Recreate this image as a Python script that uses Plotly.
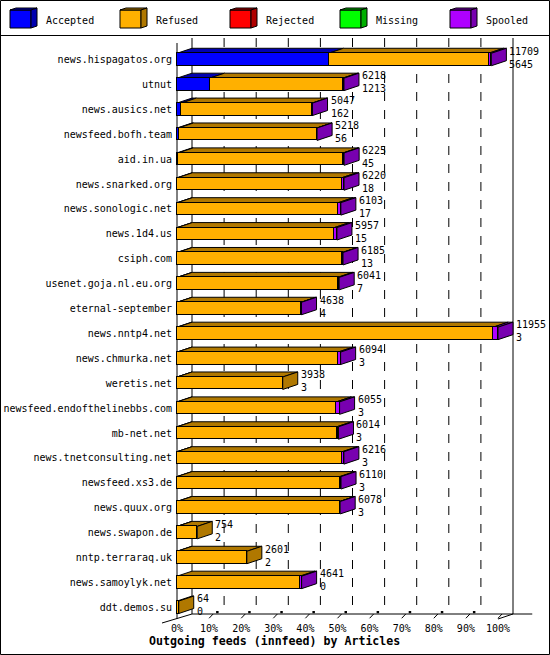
import plotly.graph_objects as go

# feeds, top to bottom
feeds = ['news.hispagatos.org', 'utnut', 'news.ausics.net', 'newsfeed.bofh.team',
         'aid.in.ua', 'news.snarked.org', 'news.sonologic.net', 'news.1d4.us',
         'csiph.com', 'usenet.goja.nl.eu.org', 'eternal-september', 'news.nntp4.net',
         'news.chmurka.net', 'weretis.net', 'newsfeed.endofthelinebbs.com', 'mb-net.net',
         'news.tnetconsulting.net', 'newsfeed.xs3.de', 'news.quux.org', 'news.swapon.de',
         'nntp.terraraq.uk', 'news.samoylyk.net', 'ddt.demos.su']
total = [11709, 6218, 5047, 5218, 6225, 6220, 6103, 5957, 6185, 6041, 4638, 11955,
         6094, 3938, 6055, 6014, 6216, 6110, 6078, 754, 2601, 4641, 64]
accepted = [5645, 1213, 162, 56, 45, 18, 17, 15, 13, 7, 4, 3,
            3, 3, 3, 3, 3, 3, 3, 2, 2, 0, 0]
refused = [5959, 4955, 4875, 5152, 6145, 6117, 5991, 5847, 6142, 5974, 4614, 11772,
           5996, 3935, 5932, 5951, 6158, 6062, 6055, 752, 2599, 4581, 64]
rejected = [0] * 23
missing = [0] * 23
spooled = [105, 50, 10, 10, 35, 85, 95, 95, 30, 60, 20, 180,
           95, 0, 120, 60, 55, 45, 20, 0, 0, 60, 0]
pct_ticks = list(range(0, 101, 10))
pct_labels = [f'{t}%' for t in pct_ticks]

series = [('Accepted', accepted, '#0000FF', '#0000B0'),
          ('Refused', refused, '#FFB000', '#B07800'),
          ('Rejected', rejected, '#FF0000', '#B00000'),
          ('Missing', missing, '#00FF00', '#00B000'),
          ('Spooled', spooled, '#AF00FF', '#7800B0')]

W, H = 550, 655
FONT = 'DejaVu Sans Mono'
scale = 100.0 / max(total)
rows = list(range(len(feeds)))

# pixel layout of the plot box
X0_PX, X100_PX = 177, 498
PL, PR = 140, 545
ROW0_PX, ROW_PX = 59.5, 24.9
PT, PB = 36, 625
ppx = (X100_PX - X0_PX) / 100.0
xr = [(PL - X0_PX) / ppx, (PR - X0_PX) / ppx]
yr = [(PB - ROW0_PX) / ROW_PX, (PT - ROW0_PX) / ROW_PX]

DX = 15 / ppx          # depth, in % units
DY = 5 / ROW_PX        # depth, in row units
HB = 0.25              # half bar height
TOP_BACK = (38 - ROW0_PX) / ROW_PX
FLOOR = (619 - ROW0_PX) / ROW_PX

fig = go.Figure()
for name, vals, col, dark in series:
    fig.add_trace(go.Bar(y=rows, x=[v * scale for v in vals], orientation='h', name=name,
                         width=2 * HB, marker=dict(color=col, line=dict(color='black', width=1)),
                         showlegend=False, hoverinfo='skip'))

shapes = []
# back wall and grid
for t in pct_ticks:
    if t in (0, 100):
        dash = 'solid'
    else:
        dash = 'dash'
    shapes.append(dict(type='line', xref='x', yref='y', x0=t + DX, x1=t + DX,
                       y0=TOP_BACK, y1=FLOOR - DY, layer='below',
                       line=dict(color='black', width=1, dash=dash)))
shapes.append(dict(type='line', xref='x', yref='y', x0=0, x1=0, y0=TOP_BACK + DY, y1=FLOOR,
                   layer='below', line=dict(color='black', width=1)))
shapes.append(dict(type='line', xref='x', yref='y', x0=DX, x1=100 + DX + 6, y0=FLOOR - DY,
                   y1=FLOOR - DY, layer='below', line=dict(color='black', width=1)))
shapes.append(dict(type='line', xref='x', yref='y', x0=-DX, x1=DX, y0=FLOOR + DY * 0.8,
                   y1=FLOOR - DY, layer='below', line=dict(color='black', width=1)))
shapes.append(dict(type='line', xref='x', yref='y', x0=100, x1=100 + DX, y0=FLOOR,
                   y1=FLOOR - DY, layer='below', line=dict(color='black', width=1)))
for t in pct_ticks[1:]:
    shapes.append(dict(type='line', xref='x', yref='y', x0=t, x1=t + DX * 0.27, y0=FLOOR - 0.03,
                       y1=FLOOR - DY, layer='below', line=dict(color='black', width=1)))
    if t < 100:
        shapes.append(dict(type='rect', xref='x', yref='y', x0=t + 7 / ppx, x1=t + 9.5 / ppx,
                           y0=FLOOR - DY - 0.03, y1=FLOOR - DY - 0.12, layer='below',
                           fillcolor='black', line=dict(width=0)))

# 3d top and side faces of the bars
for i in rows:
    start = 0.0
    last_dark = None
    end = 0.0
    yt = i - HB
    yb = i + HB
    for name, vals, col, dark in series:
        v = vals[i] * scale
        if v <= 0:
            continue
        a, b = start, start + v
        shapes.append(dict(type='path', xref='x', yref='y', layer='below',
                           path=f'M {a},{yt} L {b},{yt} L {b + DX},{yt - DY} L {a + DX},{yt - DY} Z',
                           fillcolor=dark, line=dict(color='black', width=1)))
        start = b
        end = b
        last_dark = dark
    if last_dark:
        shapes.append(dict(type='path', xref='x', yref='y', layer='below',
                           path=f'M {end},{yt} L {end + DX},{yt - DY} L {end + DX},{yb - DY} L {end},{yb} Z',
                           fillcolor=last_dark, line=dict(color='black', width=1)))

# legend box
def px(x):
    return x / W

def py(y):
    return 1 - y / H

annotations = []
for k, (name, vals, col, dark) in enumerate(series):
    x0 = 10 + 110 * k
    shapes.append(dict(type='rect', xref='paper', yref='paper', x0=px(x0), x1=px(x0 + 21),
                       y0=py(28), y1=py(10), fillcolor=col, line=dict(color='black', width=1)))
    shapes.append(dict(type='path', xref='paper', yref='paper',
                       path=f'M {px(x0)},{py(10)} L {px(x0 + 21)},{py(10)} L {px(x0 + 27)},{py(8)} L {px(x0 + 6)},{py(8)} Z',
                       fillcolor=dark, line=dict(color='black', width=1)))
    shapes.append(dict(type='path', xref='paper', yref='paper',
                       path=f'M {px(x0 + 21)},{py(10)} L {px(x0 + 27)},{py(8)} L {px(x0 + 27)},{py(26)} L {px(x0 + 21)},{py(28)} Z',
                       fillcolor=dark, line=dict(color='black', width=1)))
    annotations.append(dict(xref='paper', yref='paper', x=px(x0 + 34), y=py(20), text=name,
                            showarrow=False, xanchor='left', yanchor='middle',
                            font=dict(family=FONT, size=10, color='black')))
shapes.append(dict(type='line', xref='paper', yref='paper', x0=0, x1=1, y0=py(35.5), y1=py(35.5),
                   line=dict(color='black', width=1)))
shapes.append(dict(type='rect', xref='paper', yref='paper', x0=px(0.5), x1=px(549.5),
                   y0=py(654.5), y1=py(0.5), line=dict(color='black', width=1)))

# value labels
for i in rows:
    annotations.append(dict(xref='x', yref='y', x=total[i] * scale, y=i,
                            text=f'{total[i]}<br>{accepted[i]}', showarrow=False,
                            xanchor='left', yanchor='middle', xshift=16, yshift=2, align='left',
                            font=dict(family=FONT, size=10, color='black')))

annotations.append(dict(xref='paper', yref='paper', x=px(274), y=py(641),
                        text='<b>Outgoing feeds (innfeed) by Articles</b>', showarrow=False,
                        xanchor='center', yanchor='middle',
                        font=dict(family=FONT, size=11.6, color='black')))

fig.update_layout(
    width=W, height=H, autosize=False,
    margin=dict(l=0, r=0, t=0, b=0),
    paper_bgcolor='white', plot_bgcolor='white',
    barmode='stack', bargap=0,
    showlegend=False,
    shapes=shapes, annotations=annotations,
    xaxis=dict(domain=[PL / W, PR / W], range=xr, anchor='free', position=py(620.5),
               tickvals=pct_ticks, ticktext=pct_labels, showgrid=False,
               zeroline=False, showline=False, ticks='', automargin=False,
               tickfont=dict(family=FONT, size=10, color='black')),
    yaxis=dict(domain=[py(PB), py(PT)], range=yr, anchor='free', position=px(X0_PX - 5),
               tickvals=rows, ticktext=feeds, showgrid=False, zeroline=False,
               showline=False, ticks='', automargin=False,
               tickfont=dict(family=FONT, size=10, color='black')),
)

fig.write_html('out.html', config={'displayModeBar': False},
               post_script="document.body.style.margin='0px';")
